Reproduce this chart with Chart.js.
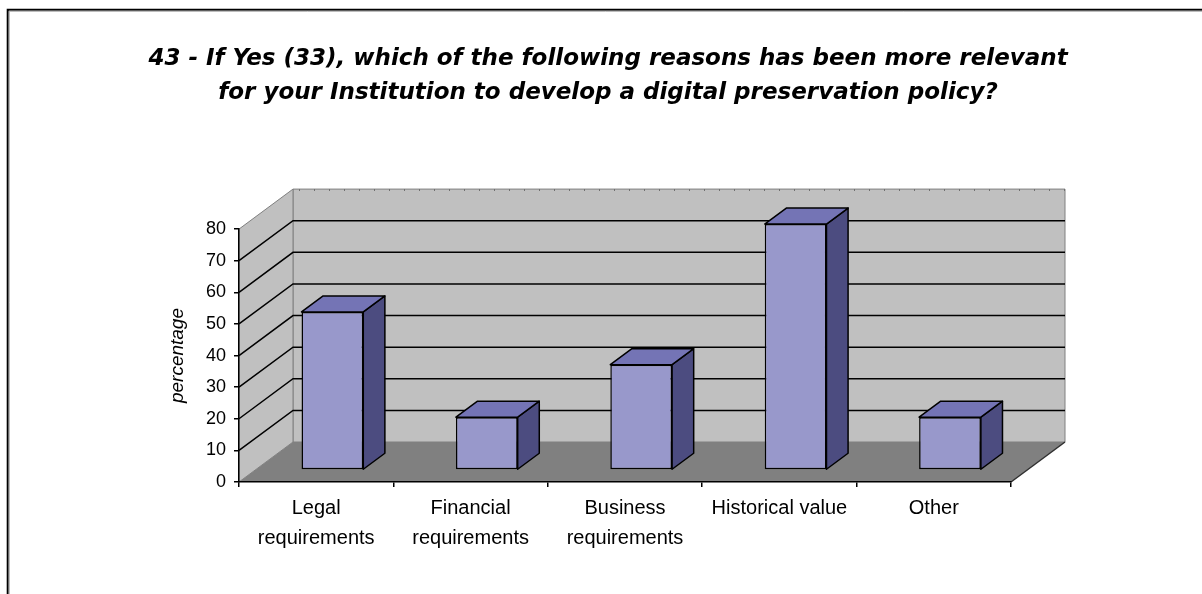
<!DOCTYPE html>
<html>
<head>
<meta charset="utf-8">
<script src="https://cdn.jsdelivr.net/npm/chart.js@4.4.1/dist/chart.umd.min.js"></script>
<style>
  html, body { margin: 0; padding: 0; background: #fff; }
  #wrap { width: 1202px; height: 594px; }
</style>
</head>
<body>
<div id="wrap"><canvas id="chart" width="1202" height="594"></canvas></div>
<script>
/* data */
const titleLines = [
  "43 - If Yes (33), which of the following reasons has been more relevant",
  "for your Institution to develop a digital preservation policy?"
];
const categories = [
  ["Legal", "requirements"],
  ["Financial", "requirements"],
  ["Business", "requirements"],
  "Historical value",
  "Other"
];
const percentages = [50, 16.7, 33.3, 77.8, 16.7];
const yMin = 0, yMax = 80, yStep = 10;
const yTitle = "percentage";

/* 3d look: depth of the floor and how deep the bars sit in it */
const DEPTH_X = 54, DEPTH_Y = -40;
const BAR_FRONT = 0.3, BAR_DEPTH = 0.4;

const WALL = "#c0c0c0", FLOOR = "#808080", EDGE = "#808080";
const BAR_FACE = "#9898cb", BAR_TOP = "#7474b5", BAR_SIDE = "#4c4c80";

function poly(ctx, pts, fill, stroke, lw) {
  ctx.beginPath();
  ctx.moveTo(pts[0][0], pts[0][1]);
  for (let i = 1; i < pts.length; i++) ctx.lineTo(pts[i][0], pts[i][1]);
  ctx.closePath();
  if (fill) { ctx.fillStyle = fill; ctx.fill(); }
  if (stroke) { ctx.strokeStyle = stroke; ctx.lineWidth = lw || 1; ctx.stroke(); }
}

/* walls, floor and wall gridlines */
const walls = {
  id: "walls",
  beforeDraw(chart) {
    const {ctx, chartArea: a, scales: {y}} = chart;
    const base = y.getPixelForValue(yMin), top = y.getPixelForValue(yMax);
    const L = a.left, R = a.right;
    ctx.save();
    // back wall
    poly(ctx, [[L+DEPTH_X, top+DEPTH_Y], [R+DEPTH_X, top+DEPTH_Y], [R+DEPTH_X, base+DEPTH_Y], [L+DEPTH_X, base+DEPTH_Y]], WALL, EDGE, 1);
    // side wall
    poly(ctx, [[L, base], [L, top], [L+DEPTH_X, top+DEPTH_Y], [L+DEPTH_X, base+DEPTH_Y]], WALL, EDGE, 1);
    // floor
    poly(ctx, [[L, base], [R, base], [R+DEPTH_X, base+DEPTH_Y], [L+DEPTH_X, base+DEPTH_Y]], FLOOR, null);
    ctx.strokeStyle = "#303030";
    ctx.lineWidth = 1.5;
    ctx.beginPath();
    ctx.moveTo(R, base); ctx.lineTo(R+DEPTH_X, base+DEPTH_Y);
    ctx.stroke();

    // gridlines on side and back wall
    ctx.strokeStyle = "#000";
    ctx.lineWidth = 1.5;
    y.ticks.forEach(t => {
      if (t.value <= yMin || t.value >= yMax) return;
      const py = y.getPixelForValue(t.value);
      ctx.beginPath();
      ctx.moveTo(L, py);
      ctx.lineTo(L+DEPTH_X, py+DEPTH_Y);
      ctx.lineTo(R+DEPTH_X, py+DEPTH_Y);
      ctx.stroke();
    });
    // small marks along the top edge of the back wall
    ctx.strokeStyle = "#707070";
    ctx.lineWidth = 2;
    ctx.setLineDash([1, 14]);
    ctx.beginPath();
    ctx.moveTo(L+DEPTH_X+6, top+DEPTH_Y+1);
    ctx.lineTo(R+DEPTH_X, top+DEPTH_Y+1);
    ctx.stroke();
    ctx.setLineDash([]);
    ctx.restore();
  },
  afterDraw(chart) {
    // outer frame, left and top only
    const {ctx} = chart;
    ctx.save();
    ctx.strokeStyle = "#000";
    ctx.lineWidth = 2;
    ctx.beginPath();
    ctx.moveTo(7.7, chart.height);
    ctx.lineTo(7.7, 9.7);
    ctx.lineTo(chart.width, 9.7);
    ctx.stroke();
    ctx.strokeStyle = "#a0a0a0";
    ctx.lineWidth = 1;
    ctx.beginPath();
    ctx.moveTo(9.2, chart.height);
    ctx.lineTo(9.2, 11.2);
    ctx.lineTo(chart.width, 11.2);
    ctx.stroke();
    ctx.restore();
  }
};

/* bars pushed into the floor, with top and side faces */
const bars3d = {
  id: "bars3d",
  beforeDatasetsDraw(chart) {
    const {ctx} = chart;
    ctx.save();
    ctx.translate(DEPTH_X * BAR_FRONT, DEPTH_Y * BAR_FRONT);
    const bdx = DEPTH_X * BAR_DEPTH, bdy = DEPTH_Y * BAR_DEPTH;
    chart.getDatasetMeta(0).data.forEach(bar => {
      const {x, y, base, width} = bar.getProps(["x", "y", "base", "width"], true);
      const l = x - width / 2, r = x + width / 2;
      ctx.lineJoin = "round";
      poly(ctx, [[r, y], [r+bdx, y+bdy], [r+bdx, base+bdy], [r, base]], BAR_SIDE, "#000", 1.5);
      poly(ctx, [[l, y], [l+bdx, y+bdy], [r+bdx, y+bdy], [r, y]], BAR_TOP, "#000", 1.5);
    });
  },
  afterDatasetsDraw(chart) {
    chart.ctx.restore();
  }
};

new Chart(document.getElementById("chart"), {
  type: "bar",
  plugins: [walls, bars3d],
  data: {
    labels: categories,
    datasets: [{
      data: percentages,
      backgroundColor: BAR_FACE,
      borderColor: "#000",
      borderWidth: 1.5,
      borderSkipped: false,
      barPercentage: 0.4,
      categoryPercentage: 1,
      clip: false
    }]
  },
  options: {
    responsive: false,
    animation: false,
    events: [],
    layout: {padding: {left: 14, right: 0, top: 0, bottom: 0}},
    plugins: {
      legend: {display: false},
      tooltip: {enabled: false},
      title: {
        display: true,
        text: titleLines,
        color: "#000",
        font: {family: "DejaVu Sans", size: 23, weight: "bold", style: "italic", lineHeight: 1.48},
        padding: {top: 42, bottom: 119}
      }
    },
    scales: {
      x: {
        grid: {drawOnChartArea: false, drawTicks: true, tickLength: 5, color: "#000", lineWidth: 1.5},
        border: {display: true, color: "#000", width: 1.5},
        ticks: {
          color: "#000",
          padding: 6,
          autoSkip: false,
          maxRotation: 0,
          font: {family: "Liberation Sans", size: 20, lineHeight: 1.5}
        },
        afterFit(s) { s.height = 112; }
      },
      y: {
        min: yMin,
        max: yMax,
        grid: {drawOnChartArea: false, drawTicks: true, tickLength: 5, color: "#000", lineWidth: 1.5},
        border: {display: true, color: "#000", width: 1.5},
        ticks: {
          stepSize: yStep,
          color: "#000",
          padding: 8,
          font: {family: "Liberation Sans", size: 18}
        },
        title: {
          display: true,
          text: yTitle,
          color: "#000",
          font: {family: "Liberation Sans", size: 19, style: "italic", lineHeight: 1.2},
          padding: {top: 152, bottom: 0}
        },
        afterFit(s) { s.width = 225; }
      },
      // empty right-hand axis, only reserves room for the 3d depth
      yRight: {
        position: "right",
        display: true,
        grid: {display: false},
        border: {display: false},
        ticks: {display: false},
        afterFit(s) { s.width = 191; }
      }
    }
  }
});
</script>
</body>
</html>
